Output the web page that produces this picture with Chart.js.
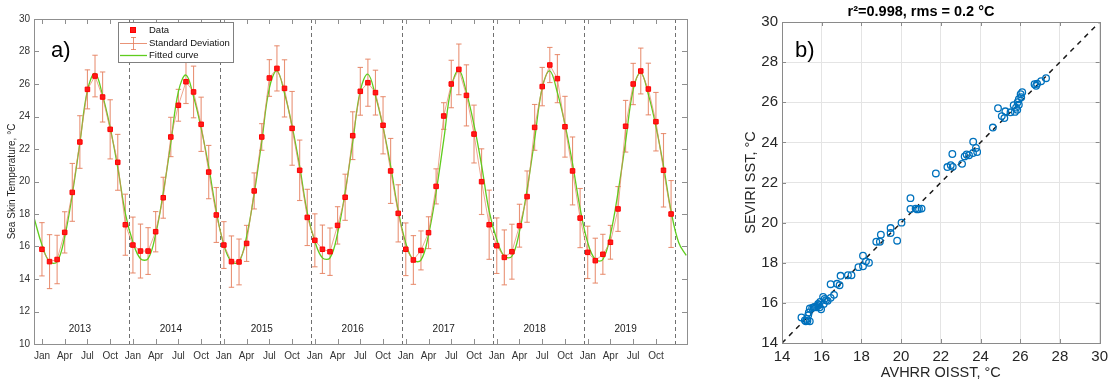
<!DOCTYPE html>
<html><head><meta charset="utf-8">
<script src="https://cdn.jsdelivr.net/npm/chart.js@4.4.1/dist/chart.umd.min.js"></script>
<style>
html,body{margin:0;padding:0;background:#fff;}
#wrap{position:relative;width:1113px;height:386px;overflow:hidden;}
#c1{position:absolute;left:0;top:0;}
#c2{position:absolute;left:740px;top:0;}
</style></head><body>
<div id="wrap">
<canvas id="c1" width="700" height="386"></canvas>
<canvas id="c2" width="373" height="386"></canvas>
</div>
<script>
// ---------- Panel a) data ----------
const monthLabels = ['Jan', 'Apr', 'Jul', 'Oct'];
const yearLabels = ['2013', '2014', '2015', '2016', '2017', '2018', '2019'];
const yearBoundaries = [11.5, 23.5, 35.5, 47.5, 59.5, 71.5, 83.5];
const yearLabelPos = [5, 17, 29, 41, 53, 65, 77];
const tickMonths = [0,3,6,9,12,15,18,21,24,27,30,33,36,39,42,45,48,51,54,57,60,63,66,69,72,75,78,81];

const sstData = [
  15.83, 15.07, 15.20, 16.87, 19.33, 22.43, 25.67, 26.49, 25.20, 23.21, 21.18, 17.34,
  16.09, 15.72, 15.72, 16.91, 19.00, 22.74, 24.69, 26.14, 25.51, 23.52, 20.58, 17.94,
  16.09, 15.07, 15.05, 16.19, 19.42, 22.74, 26.37, 26.96, 25.73, 23.27, 20.69, 17.79,
  16.38, 15.83, 15.68, 17.30, 19.03, 22.82, 25.55, 26.08, 25.47, 23.46, 20.65, 18.04,
  15.83, 15.17, 15.76, 16.85, 19.70, 24.03, 26.00, 26.90, 25.30, 22.92, 19.99, 17.34,
  16.05, 15.33, 15.68, 17.28, 19.07, 23.33, 25.84, 27.17, 26.33, 23.37, 20.65, 17.75,
  15.64, 15.13, 15.52, 16.26, 18.31, 23.40, 26.00, 26.80, 25.69, 23.68, 20.69, 18.00
];
const sstStd = [
  1.64, 1.66, 1.49, 1.27, 1.78, 1.62, 1.20, 1.28, 1.54, 1.82, 1.72, 1.88,
  1.72, 1.66, 1.44, 1.24, 1.26, 1.21, 0.98, 1.34, 1.59, 1.67, 1.64, 1.69,
  1.44, 1.58, 1.41, 1.11, 1.11, 0.82, 1.13, 1.39, 1.76, 2.27, 1.86, 1.73,
  1.63, 1.49, 1.46, 1.15, 1.42, 1.47, 1.47, 1.45, 1.38, 1.76, 2.00, 1.76,
  1.62, 1.50, 1.20, 0.98, 1.08, 0.82, 1.46, 1.56, 1.88, 1.78, 2.02, 2.13,
  1.71, 1.69, 1.69, 1.32, 1.58, 1.41, 1.18, 1.08, 1.48, 1.87, 2.09, 1.82,
  1.61, 1.38, 1.23, 1.04, 1.38, 1.59, 1.27, 1.41, 1.59, 1.80, 2.26, 2.06
];
const fitMonths = [-1,
  0,1,2,3,4,5,6,7,8,9,10,11, 12,13,14,15,16,17,18,19,20,21,22,23,
  24,25,26,27,28,29,30,31,32,33,34,35, 36,37,38,39,40,41,42,43,44,45,46,47,
  48,49,50,51,52,53,54,55,56,57,58,59, 60,61,62,63,64,65,66,67,68,69,70,71,
  72,73,74,75,76,77,78,79,80,81,82,83, 84,85];
const fitValues = [17.70,
  16.10, 15.06, 15.06, 16.60, 19.21, 22.37, 25.60, 26.65, 25.30, 23.31, 20.85, 18.04,
  16.27, 15.25, 15.25, 16.76, 19.30, 22.38, 25.53, 26.55, 25.23, 23.29, 20.90, 18.16,
  16.11, 15.06, 15.06, 16.62, 19.27, 22.47, 25.74, 26.80, 25.43, 23.41, 20.93, 18.08,
  16.32, 15.30, 15.30, 16.81, 19.35, 22.43, 25.58, 26.60, 25.28, 23.34, 20.95, 18.21,
  16.21, 15.16, 15.16, 16.72, 19.35, 22.53, 25.79, 26.85, 25.48, 23.48, 21.00, 18.17,
  16.43, 15.40, 15.40, 16.93, 19.49, 22.60, 25.77, 26.80, 25.47, 23.52, 21.10, 18.34,
  16.24, 15.20, 15.20, 16.74, 19.33, 22.46, 25.66, 26.70, 25.36, 23.39, 20.95, 18.17,
  16.25, 15.45];

// ---------- Panel b) data ----------
const avhrrSST = [
  14.98, 15.15, 15.20, 15.28, 15.40, 15.32, 15.35, 15.40, 15.52, 15.60, 15.72, 15.78, 15.87, 15.92,
  15.97, 15.90, 16.07, 16.10, 16.22, 16.30, 16.45, 16.62, 16.45, 16.77, 16.90, 16.95, 17.32, 17.50,
  17.85, 18.08, 18.08, 18.23, 18.38, 18.75, 18.93, 18.98, 19.47, 19.47, 19.80, 20.02, 20.47, 20.47,
  20.73, 20.82, 20.90, 21.03, 21.75, 22.33, 22.50, 22.58, 22.60, 23.07, 23.20, 23.30, 23.42, 23.63,
  23.62, 23.77, 23.83, 24.62, 24.88, 25.07, 25.20, 25.25, 25.51, 25.67, 25.73, 25.79, 25.87, 25.93,
  25.93, 26.02, 26.10, 26.05, 26.72, 26.80, 26.85, 27.05, 27.30, 15.65, 15.82, 16.15, 15.25, 25.85
];
const seviriSST = [
  15.27, 15.13, 15.08, 15.10, 15.08, 15.38, 15.52, 15.72, 15.75, 15.78, 15.78, 15.85, 15.90, 16.05,
  15.68, 15.78, 16.30, 15.95, 16.13, 16.10, 16.25, 16.40, 16.93, 16.95, 16.88, 17.35, 17.38, 17.38,
  17.78, 17.82, 18.35, 18.07, 18.00, 19.05, 19.05, 19.40, 19.48, 19.73, 19.10, 20.00, 21.22, 20.68,
  20.70, 20.66, 20.68, 20.70, 22.45, 22.77, 22.86, 23.42, 22.78, 22.93, 23.30, 23.40, 23.36, 24.03,
  23.47, 23.72, 23.52, 24.74, 25.70, 25.31, 25.21, 25.55, 25.50, 25.85, 25.52, 25.73, 26.00, 26.15,
  25.88, 26.40, 26.50, 26.25, 26.90, 26.82, 26.92, 27.05, 27.20, 15.80, 15.95, 16.20, 15.20, 25.62
];
const oneToOne = [14, 30];
const axisTicksB = [14, 16, 18, 20, 22, 24, 26, 28, 30];

Chart.defaults.font.family = '"Liberation Sans", Arial, Helvetica, sans-serif';
Chart.defaults.color = '#262626';

function seg(ctx, x1, y1, x2, y2) { ctx.beginPath(); ctx.moveTo(x1, y1); ctx.lineTo(x2, y2); ctx.stroke(); }

const errColor = 'rgba(229,128,95,0.85)';

const panelA = {
  id: 'panelA',
  beforeDatasetsDraw(chart) {
    const ctx = chart.ctx, xs = chart.scales.x, ys = chart.scales.y, a = chart.chartArea;
    ctx.save();
    ctx.strokeStyle = '#707070'; ctx.lineWidth = 1; ctx.setLineDash([4, 3]);
    yearBoundaries.forEach(b => { const px = Math.round(xs.getPixelForValue(b)) + 0.5; seg(ctx, px, a.top, px, a.bottom); });
    ctx.setLineDash([]);
    ctx.strokeStyle = errColor; ctx.lineWidth = 1.1;
    sstData.forEach((v, i) => {
      const px = xs.getPixelForValue(i);
      const t = ys.getPixelForValue(v + sstStd[i]);
      const bt = ys.getPixelForValue(v - sstStd[i]);
      seg(ctx, px, t, px, bt);
      seg(ctx, px - 2.7, t, px + 2.7, t);
      seg(ctx, px - 2.7, bt, px + 2.7, bt);
    });
    ctx.fillStyle = '#222'; ctx.font = '10px "Liberation Sans", Arial, sans-serif';
    ctx.textAlign = 'center'; ctx.textBaseline = 'middle';
    yearLabels.forEach((y, k) => ctx.fillText(y, xs.getPixelForValue(yearLabelPos[k]), ys.getPixelForValue(10.92)));
    ctx.restore();
  },
  afterDraw(chart) {
    const ctx = chart.ctx, xs = chart.scales.x, ys = chart.scales.y, a = chart.chartArea;
    ctx.save();
    ctx.strokeStyle = '#8f8f8f'; ctx.lineWidth = 1;
    ctx.strokeRect(Math.round(a.left) + 0.5, Math.round(a.top) + 0.5, Math.round(a.right - a.left), Math.round(a.bottom - a.top));
    xs.ticks.forEach(t => {
      const px = Math.round(xs.getPixelForValue(t.value)) + 0.5;
      seg(ctx, px, a.bottom, px, a.bottom - 5);
      seg(ctx, px, a.top, px, a.top + 5);
    });
    ys.ticks.forEach(t => {
      const py = Math.round(ys.getPixelForValue(t.value)) + 0.5;
      seg(ctx, a.left, py, a.left + 5, py);
      seg(ctx, a.right, py, a.right - 5, py);
    });
    // legend
    const lx = 118, ly = 22, lw = 115, lh = 40;
    ctx.fillStyle = '#fff'; ctx.fillRect(lx, ly, lw, lh);
    ctx.strokeStyle = '#808080'; ctx.strokeRect(lx + 0.5, ly + 0.5, lw, lh);
    ctx.font = '9.5px "Liberation Sans", Arial, sans-serif';
    ctx.textAlign = 'left'; ctx.textBaseline = 'middle';
    ctx.fillStyle = '#ff1a1a'; ctx.fillRect(130, 27, 6, 6);
    ctx.strokeStyle = '#ff0000'; ctx.strokeRect(130.5, 27.5, 5, 5);
    ctx.fillStyle = '#111'; ctx.fillText('Data', 149, 30);
    ctx.strokeStyle = errColor; ctx.lineWidth = 1;
    seg(ctx, 120, 43.5, 147, 43.5); seg(ctx, 133.5, 37, 133.5, 50);
    seg(ctx, 131, 37.5, 136, 37.5); seg(ctx, 131, 49.5, 136, 49.5);
    ctx.fillStyle = '#111'; ctx.fillText('Standard Deviation', 149, 43);
    ctx.strokeStyle = '#5fcc1e'; ctx.lineWidth = 1.3; seg(ctx, 120, 55.5, 147, 55.5);
    ctx.fillStyle = '#111'; ctx.fillText('Fitted curve', 149, 55);
    ctx.font = '22px "Liberation Sans", Arial, sans-serif'; ctx.textBaseline = 'alphabetic';
    ctx.fillStyle = '#000'; ctx.fillText('a)', 51, 57);
    ctx.restore();
  }
};

new Chart(document.getElementById('c1'), {
  type: 'line',
  data: {
    datasets: [
      {
        label: 'Data',
        data: sstData.map((v, i) => ({ x: i, y: v })),
        borderColor: 'rgba(229,128,95,0.7)', borderWidth: 1, tension: 0,
        pointStyle: 'rect', pointRadius: 3.2, pointBackgroundColor: '#ff1a1a',
        pointBorderColor: '#ff0000', pointBorderWidth: 1
      },
      {
        label: 'Fitted curve',
        data: fitMonths.map((m, i) => ({ x: m, y: fitValues[i] })),
        borderColor: '#5fcc1e', borderWidth: 1.3, pointRadius: 0, tension: 0.4
      }
    ]
  },
  options: {
    responsive: false, animation: false, events: [],
    layout: { padding: { left: 0, right: 13, top: 19, bottom: 0 } },
    plugins: { legend: { display: false }, tooltip: { enabled: false } },
    scales: {
      x: {
        type: 'linear', min: -1.05, max: 85.1,
        afterBuildTicks: s => { s.ticks = tickMonths.map(v => ({ value: v })); },
        afterFit: s => { s.height = 42; },
        ticks: { autoSkip: false, maxRotation: 0, padding: 6, font: { size: 10 }, color: '#333',
          callback: v => monthLabels[Math.round(v / 3) % 4] },
        grid: { display: false, drawTicks: false },
        border: { display: false }
      },
      y: {
        min: 10, max: 30,
        afterFit: s => { s.width = 34; },
        ticks: { stepSize: 2, padding: 4, font: { size: 10 }, color: '#333' },
        grid: { display: false, drawTicks: false },
        border: { display: false },
        title: { display: true, text: 'Sea Skin Temperature, °C', font: { size: 10 }, color: '#222', padding: { top: 6, bottom: 0 } }
      }
    }
  },
  plugins: [panelA]
});

const panelB = {
  id: 'panelB',
  afterDraw(chart) {
    const ctx = chart.ctx, xs = chart.scales.x, ys = chart.scales.y, a = chart.chartArea;
    ctx.save();
    ctx.strokeStyle = '#8a8a8a'; ctx.lineWidth = 1;
    ctx.strokeRect(Math.round(a.left) + 0.5, Math.round(a.top) + 0.5, Math.round(a.right - a.left), Math.round(a.bottom - a.top));
    xs.ticks.forEach(t => {
      const px = Math.round(xs.getPixelForValue(t.value)) + 0.5;
      seg(ctx, px, a.bottom, px, a.bottom - 4);
      seg(ctx, px, a.top, px, a.top + 4);
    });
    ys.ticks.forEach(t => {
      const py = Math.round(ys.getPixelForValue(t.value)) + 0.5;
      seg(ctx, a.left, py, a.left + 4, py);
      seg(ctx, a.right, py, a.right - 4, py);
    });
    ctx.font = '22px "Liberation Sans", Arial, sans-serif';
    ctx.fillStyle = '#000'; ctx.textAlign = 'left'; ctx.textBaseline = 'alphabetic';
    ctx.fillText('b)', 55, 57);
    ctx.restore();
  }
};

new Chart(document.getElementById('c2'), {
  type: 'scatter',
  data: {
    datasets: [
      {
        data: avhrrSST.map((x, i) => ({ x: x, y: seviriSST[i] })),
        pointStyle: 'circle', pointRadius: 3.3, pointBackgroundColor: 'rgba(0,0,0,0)',
        pointBorderColor: '#0072BD', pointBorderWidth: 1.3
      },
      {
        type: 'line',
        data: oneToOne.map(v => ({ x: v, y: v })),
        borderColor: '#1a1a1a', borderWidth: 1.5, borderDash: [5, 5], pointRadius: 0
      }
    ]
  },
  options: {
    responsive: false, animation: false, events: [],
    layout: { padding: { left: 0, right: 11, top: 0, bottom: 0 } },
    plugins: {
      legend: { display: false }, tooltip: { enabled: false },
      title: { display: true, text: 'r²=0.998, rms = 0.2 °C', color: '#000',
        font: { size: 14.5, weight: 'bold' }, padding: { top: 3, bottom: 1.6 } }
    },
    scales: {
      x: {
        type: 'linear', min: 14, max: 30,
        afterBuildTicks: s => { s.ticks = axisTicksB.map(v => ({ value: v })); },
        afterFit: s => { s.height = 43; },
        ticks: { padding: 5, font: { size: 15 }, color: '#262626', maxRotation: 0 },
        grid: { color: '#e4e4e4', drawTicks: false },
        border: { display: false },
        title: { display: true, text: 'AVHRR OISST, °C', font: { size: 14.5 }, color: '#262626', padding: { top: 0, bottom: 4 } }
      },
      y: {
        min: 14, max: 30,
        afterBuildTicks: s => { s.ticks = axisTicksB.map(v => ({ value: v })); },
        afterFit: s => { s.width = 42; },
        ticks: { padding: 4, font: { size: 15 }, color: '#262626' },
        grid: { color: '#e4e4e4', drawTicks: false },
        border: { display: false },
        title: { display: true, text: 'SEVIRI SST, °C', font: { size: 14.5 }, color: '#262626', padding: { top: 2, bottom: 0 } }
      }
    }
  },
  plugins: [panelB]
});
</script>
</body></html>
